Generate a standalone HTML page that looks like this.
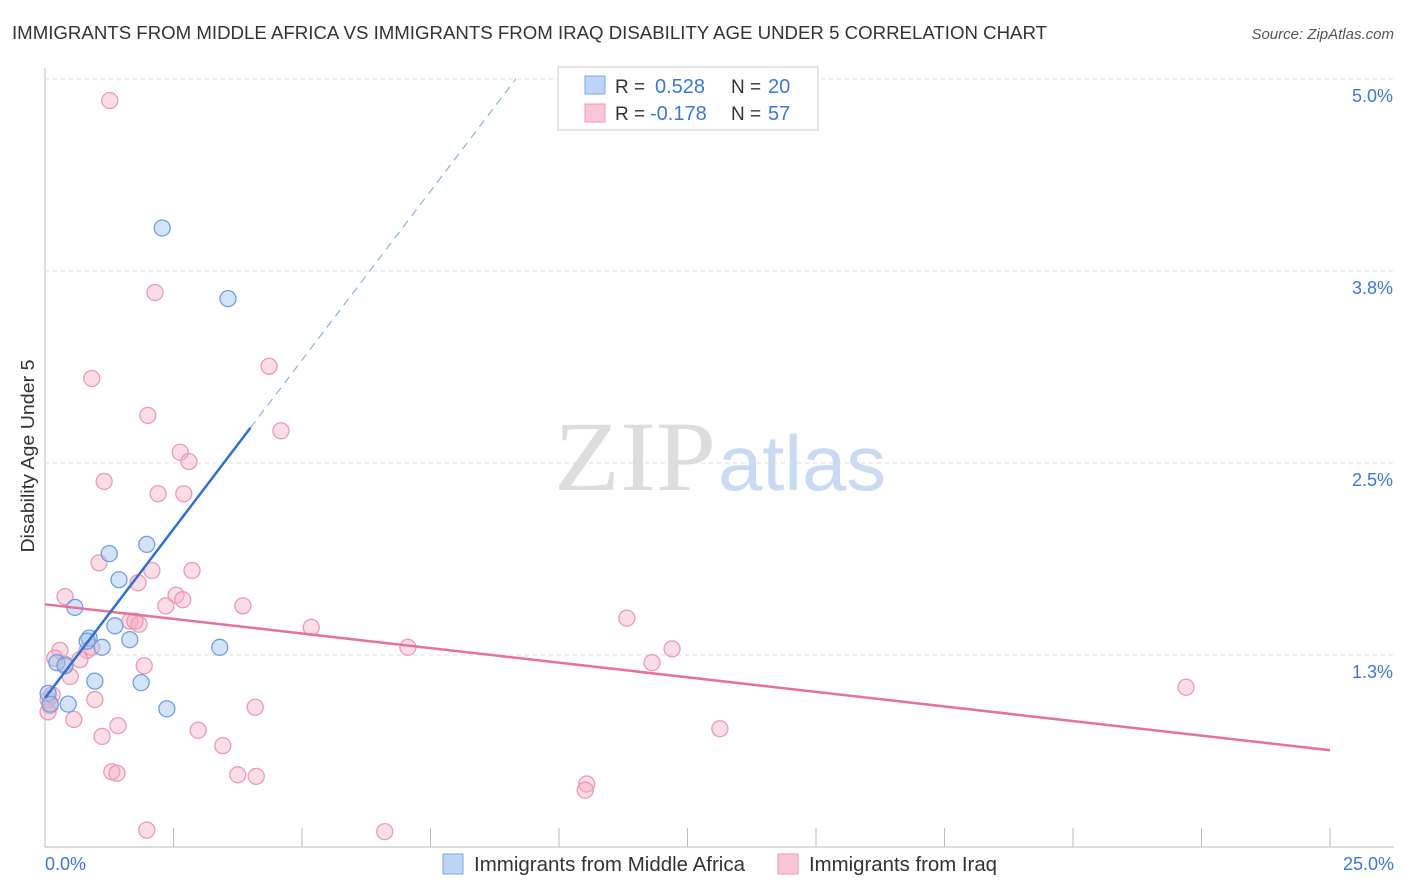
<!DOCTYPE html>
<html><head><meta charset="utf-8"><style>
body{margin:0;background:#fff;font-family:"Liberation Sans",sans-serif;}
svg{display:block}
</style></head><body>
<svg id="chart" width="1406" height="892">
<text x="12" y="39" font-size="18" fill="#333" textLength="1035" lengthAdjust="spacingAndGlyphs">IMMIGRANTS FROM MIDDLE AFRICA VS IMMIGRANTS FROM IRAQ DISABILITY AGE UNDER 5 CORRELATION CHART</text>
<text x="1394" y="39" font-size="15" fill="#555" font-style="italic" text-anchor="end">Source: ZipAtlas.com</text>
<text x="34" y="456" font-size="18" fill="#333" transform="rotate(-90 34 456)" text-anchor="middle" textLength="193" lengthAdjust="spacingAndGlyphs">Disability Age Under 5</text>
<text x="554" y="490" font-size="100" fill="#ddd" textLength="162" lengthAdjust="spacingAndGlyphs" font-family="Liberation Serif">ZIP</text>
<text x="718" y="490" font-size="78" fill="#c9daf2" textLength="168" lengthAdjust="spacingAndGlyphs">atlas</text>
<g id="grid"></g><g id="pts"></g><g id="lines"></g>
<g>
<rect x="558" y="67" width="260" height="63" fill="#fff" stroke="#ccc"/>
<rect x="585" y="76" width="20" height="18" fill="#bcd5f5" stroke="#7aa7e6"/>
<rect x="585" y="104" width="20" height="18" fill="#f9c6d5" stroke="#eb9ab5"/>
<text x="615" y="93" font-size="19" fill="#333">R =</text>
<text x="655" y="93" font-size="20" fill="#3b78d8">0.528</text>
<text x="731" y="93" font-size="19" fill="#333">N =</text>
<text x="768" y="93" font-size="20" fill="#3b78d8">20</text>
<text x="615" y="120" font-size="19" fill="#333">R =</text>
<text x="650" y="120" font-size="20" fill="#3b78d8">-0.178</text>
<text x="731" y="120" font-size="19" fill="#333">N =</text>
<text x="768" y="120" font-size="20" fill="#3b78d8">57</text>
</g>
<g>
<rect x="443" y="854" width="20" height="20" fill="#bcd5f5" stroke="#7aa7e6"/>
<text x="474" y="871" font-size="20" fill="#333" textLength="271" lengthAdjust="spacingAndGlyphs">Immigrants from Middle Africa</text>
<rect x="778" y="854" width="20" height="20" fill="#f9c6d5" stroke="#eb9ab5"/>
<text x="809" y="871" font-size="20" fill="#333" textLength="188" lengthAdjust="spacingAndGlyphs">Immigrants from Iraq</text>
</g>
</svg>
<script>
const yTicks=[1.25,2.5,3.75,5.0];
const yTickLabels=["1.3%","2.5%","3.8%","5.0%"];
const xTicks=[0,2.5,5,7.5,10,12.5,15,17.5,20,22.5,25];
const blueX=[2.28,3.56,1.98,1.25,1.44,0.58,1.36,0.86,0.82,1.65,1.11,3.40,0.23,0.39,0.97,1.87,0.06,0.10,0.45,2.37];
const blueY=[4.03,3.57,1.97,1.91,1.74,1.56,1.44,1.36,1.34,1.35,1.30,1.30,1.20,1.18,1.08,1.07,1.00,0.93,0.93,0.90];
const pinkX=[1.26,2.14,4.36,0.91,2.00,4.59,2.63,2.80,1.15,2.20,2.70,1.05,2.08,2.86,1.81,0.39,2.55,2.68,2.35,3.85,1.65,1.83,1.75,5.18,11.32,0.29,0.82,7.06,12.20,0.19,0.68,0.39,1.93,11.81,0.49,22.20,0.97,0.10,4.09,0.06,0.56,1.42,2.98,1.11,13.13,3.46,1.30,1.40,3.75,4.11,10.54,10.51,1.98,6.61,0.06,0.14,0.91];
const pinkY=[4.86,3.61,3.13,3.05,2.81,2.71,2.57,2.51,2.38,2.30,2.30,1.85,1.80,1.80,1.72,1.63,1.64,1.61,1.57,1.57,1.47,1.45,1.47,1.43,1.49,1.28,1.28,1.30,1.29,1.23,1.22,1.19,1.18,1.20,1.11,1.04,0.96,0.92,0.91,0.88,0.83,0.79,0.76,0.72,0.77,0.66,0.49,0.48,0.47,0.46,0.41,0.37,0.11,0.10,0.96,0.99,1.30];
const blueTrend=[0.97,0.44];
const pinkTrend=[1.58,-0.038];
const X=v=>45+v*51.4, Y=v=>847-v*153.6;
const NS="http://www.w3.org/2000/svg";
function mk(p,t,a){const e=document.createElementNS(NS,t);for(const k in a)e.setAttribute(k,a[k]);p.appendChild(e);return e;}
const g=document.getElementById('grid');
const ax=mk(g,'line',{x1:45,y1:68,x2:45,y2:847,stroke:'#bbb'});


const bx=mk(g,'line',{x1:45,y1:847,x2:1394,y2:847,stroke:'#bbb'});


yTicks.forEach((v,i)=>{
 const l=mk(g,'line',{x1:45,y1:Y(v),x2:1394,y2:Y(v),stroke:'#ddd','stroke-dasharray':'4,4'});
 
 
 const t=mk(g,'text',{x:1393,y:Y(v)+23,'font-size':18,fill:'#3b78d8','text-anchor':'end'});
 t.textContent=yTickLabels[i];
 
 
});
xTicks.forEach(v=>{
 const l=mk(g,'line',{x1:X(v),y1:828,x2:X(v),y2:847,stroke:'#bbb'});
 
 
});
[[0,"0.0%",'start',45],[25,"25.0%",'end',1394]].forEach(a=>{
 const t=mk(g,'text',{x:a[3],y:870,'font-size':18,fill:'#3b78d8','text-anchor':a[2]});
 t.textContent=a[1];
 
 
});
const P=document.getElementById('pts');
pinkX.forEach((x,i)=>{
 const c=mk(P,'circle',{cx:X(x),cy:Y(pinkY[i]),r:8,fill:'rgba(245,170,195,0.4)',stroke:'#eb9ab5','stroke-width':1.3});
 
 
});
blueX.forEach((x,i)=>{
 const c=mk(P,'circle',{cx:X(x),cy:Y(blueY[i]),r:8,fill:'rgba(160,195,240,0.45)',stroke:'#6f9fe0','stroke-width':1.3});
 
 
});
const L=document.getElementById('lines');
const pl=mk(L,'line',{x1:X(0),y1:Y(pinkTrend[0]),x2:X(25),y2:Y(pinkTrend[0]+25*pinkTrend[1]),stroke:'#e8709a','stroke-width':2.5});


const bl=mk(L,'line',{x1:X(0),y1:Y(blueTrend[0]),x2:X(4),y2:Y(blueTrend[0]+4*blueTrend[1]),stroke:'#3070d0','stroke-width':2.5});


const xe=(5.0-blueTrend[0])/blueTrend[1];
const bd=mk(L,'line',{x1:X(4),y1:Y(blueTrend[0]+4*blueTrend[1]),x2:X(xe),y2:Y(5.0),stroke:'#8ab0e6','stroke-width':1.2,'stroke-dasharray':'8,6'});


</script>
</body></html>
